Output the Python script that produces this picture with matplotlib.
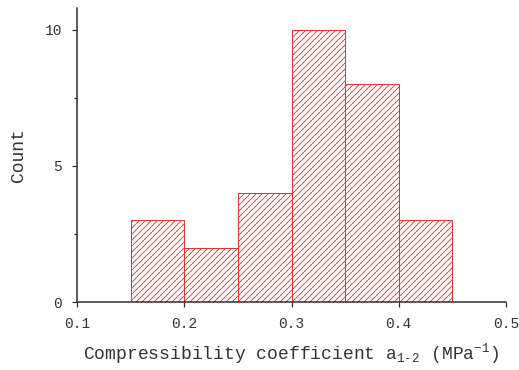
import numpy as np
import matplotlib.pyplot as plt
from matplotlib.ticker import MultipleLocator

plt.rcParams.update({
    "font.family": "Liberation Mono",
    "mathtext.fontset": "custom",
    "mathtext.rm": "Liberation Mono",
    "mathtext.it": "Liberation Mono",
    "hatch.linewidth": 0.9,
})

# Histogram of compressibility coefficient a1-2
bin_edges = [0.15, 0.20, 0.25, 0.30, 0.35, 0.40, 0.45]
counts = [3, 2, 4, 10, 8, 3]
x_ticks = [0.1, 0.2, 0.3, 0.4, 0.5]
y_ticks = [0, 5, 10]

bar_color = "#e8362e"
axis_color = "#2b2b2b"

fig = plt.figure(figsize=(519 / 72, 370 / 72), dpi=72)
ax = fig.add_axes([77 / 519, 68 / 370, 429 / 519, 294 / 370])

lefts = np.array(bin_edges[:-1])
widths = np.diff(bin_edges)
ax.bar(lefts, counts, width=widths, align="edge", facecolor="white",
       edgecolor=bar_color, linewidth=1.0, hatch="////", zorder=2)

ax.set_xlim(0.1, 0.5)
ax.set_ylim(0, 10.8)
ax.set_xticks(x_ticks)
ax.set_xticklabels([f"{t:.1f}" for t in x_ticks])
ax.set_yticks(y_ticks)
ax.yaxis.set_minor_locator(MultipleLocator(2.5))

for side in ("top", "right"):
    ax.spines[side].set_visible(False)
for side in ("left", "bottom"):
    ax.spines[side].set_color(axis_color)
    ax.spines[side].set_linewidth(1.5)
    ax.spines[side].set_zorder(3)

ax.tick_params(axis="both", which="major", direction="out", length=5,
               width=1.2, color=axis_color, labelsize=14.5, labelcolor="#333333")
ax.tick_params(axis="y", which="minor", direction="out", length=3,
               width=1.2, color=axis_color)
ax.tick_params(axis="x", pad=10)
ax.tick_params(axis="y", pad=10)

ax.set_xlabel(r"Compressibility coefficient a$_{\mathregular{1\text{-}2}}$ (MPa$^{\mathregular{-1}}$)",
              fontsize=18, color="#333333", labelpad=10)
ax.set_ylabel("Count", fontsize=18, color="#333333", labelpad=18)

fig.savefig("out.png", dpi=72)
